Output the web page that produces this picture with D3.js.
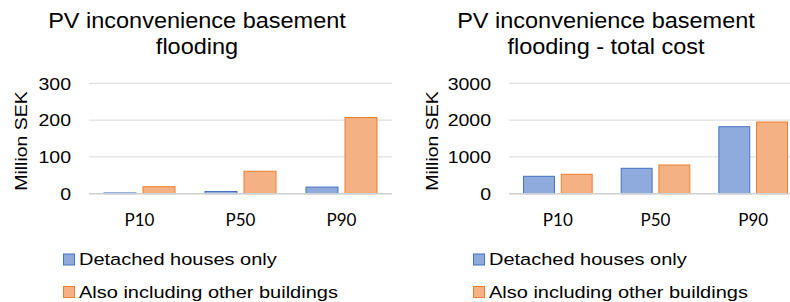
<!DOCTYPE html>
<html>
<head>
<meta charset="utf-8">
<script src="https://cdn.jsdelivr.net/npm/d3@7"></script>
<style>
  body { margin: 0; background: #fff; }
  svg { display: block; }
</style>
</head>
<body>
<div id="holder"></div>
<script>
// values (Million SEK)
var categories = ["P10", "P50", "P90"];
var seriesNames = ["Detached houses only", "Also including other buildings"];
var detachedFlood = [2, 6, 18];
var allFlood = [19, 61, 207];
var detachedTotal = [473, 690, 1820];
var allTotal = [527, 780, 1948];
var floodTicks = [0, 100, 200, 300];
var totalTicks = [0, 1000, 2000, 3000];

var fills = ["#8faadc", "#f4b183"];
var strokes = ["#4472c4", "#ed7d31"];
var arial = "Liberation Sans, Arial, sans-serif";

var W = 790, H = 302;
var svg = d3.select("#holder").append("svg")
  .attr("width", W)
  .attr("height", H);

var charts = [
  { title: ["PV inconvenience basement", "flooding"], a: detachedFlood, b: allFlood, ticks: floodTicks,
    x0: 89, x1: 392, titleX: 197, labelX: 71, axisTitleX: 21, legX: 63 },
  { title: ["PV inconvenience basement", "flooding - total cost"], a: detachedTotal, b: allTotal, ticks: totalTicks,
    x0: 509, x1: 802, titleX: 606, labelX: 491, axisTitleX: 432, legX: 473 }
];

var yTop = 83.3, yBottom = 193.7;

// text squashed a little vertically, the original font is wide and low
function squash(sel, x, y, sy, rot) {
  sel.attr("transform", function(d, i) {
    var xx = typeof x === "function" ? x(d, i) : x;
    var yy = typeof y === "function" ? y(d, i) : y;
    return "translate(" + xx + "," + yy + ")" + (rot ? " rotate(" + rot + ")" : "") + " scale(1," + sy + ")";
  });
}

charts.forEach(function(c) {
  var g = svg.append("g");
  var maxV = c.ticks[c.ticks.length - 1];
  var y = d3.scaleLinear().domain([0, maxV]).range([yBottom, yTop]);
  var x = d3.scaleBand().domain(categories).range([c.x0, c.x1]).padding(0);
  var xs = d3.scaleBand().domain([0, 1]).range([0, x.bandwidth()])
    .paddingInner(0.18).paddingOuter(0.385);

  // title
  g.selectAll(".title").data(c.title).enter().append("text")
    .attr("text-anchor", "middle")
    .style("font-family", arial)
    .style("font-size", "23.5px")
    .attr("fill", "#000")
    .text(function(d) { return d; })
    .call(squash, c.titleX, function(d, i) { return 28 + i * 26; }, 0.95);

  // gridlines
  g.selectAll(".grid").data(c.ticks.filter(function(t) { return t > 0; })).enter().append("line")
    .attr("x1", c.x0).attr("x2", c.x1)
    .attr("y1", function(d) { return y(d); })
    .attr("y2", function(d) { return y(d); })
    .attr("stroke", "#d9d9d9")
    .attr("stroke-width", 1);

  // y tick labels
  g.selectAll(".ylab").data(c.ticks).enter().append("text")
    .attr("text-anchor", "end")
    .style("font-family", arial)
    .style("font-size", "19.5px")
    .attr("fill", "#000")
    .text(function(d) { return d; })
    .call(squash, c.labelX, function(d) { return y(d) + 6.2; }, 0.88);

  // y axis title
  g.append("text")
    .attr("text-anchor", "middle")
    .style("font-family", arial)
    .style("font-size", "19.5px")
    .attr("fill", "#000")
    .text("Million SEK")
    .call(squash, c.axisTitleX + 6.2, 141, 0.88, -90);

  // bars
  var rows = categories.map(function(cat, i) { return { cat: cat, vals: [c.a[i], c.b[i]] }; });
  var grp = g.selectAll(".cat").data(rows).enter().append("g")
    .attr("transform", function(d) { return "translate(" + x(d.cat) + ",0)"; });
  grp.selectAll("rect").data(function(d) { return d.vals; }).enter().append("rect")
    .attr("x", function(d, i) { return xs(i); })
    .attr("width", xs.bandwidth())
    .attr("y", function(d) { return y(d); })
    .attr("height", function(d) { return yBottom - y(d); })
    .attr("fill", function(d, i) { return fills[i]; })
    .attr("stroke", function(d, i) { return strokes[i]; })
    .attr("stroke-width", 1);

  // baseline
  g.append("line")
    .attr("x1", c.x0).attr("x2", c.x1)
    .attr("y1", yBottom).attr("y2", yBottom)
    .attr("stroke", "#d0d0d0")
    .attr("stroke-width", 1.5);

  // x labels
  g.selectAll(".xlab").data(categories).enter().append("text")
    .attr("x", function(d) { return x(d) + x.bandwidth() / 2; })
    .attr("y", 225.7)
    .attr("text-anchor", "middle")
    .style("font-family", "Lato, sans-serif")
    .style("font-size", "17px")
    .attr("fill", "#000")
    .text(function(d) { return d; });

  // legend
  var leg = g.selectAll(".leg").data(seriesNames).enter().append("g")
    .attr("transform", function(d, i) { return "translate(" + c.legX + "," + (253.5 + i * 32.5) + ")"; });
  leg.append("rect")
    .attr("x", 0.5).attr("y", 0.5)
    .attr("width", 11).attr("height", 11)
    .attr("fill", function(d, i) { return fills[i]; })
    .attr("stroke", function(d, i) { return strokes[i]; });
  leg.append("text")
    .style("font-family", arial)
    .style("font-size", "20px")
    .attr("fill", "#000")
    .text(function(d) { return d; })
    .call(squash, 16, 11.8, 0.86);
});
</script>
</body>
</html>
